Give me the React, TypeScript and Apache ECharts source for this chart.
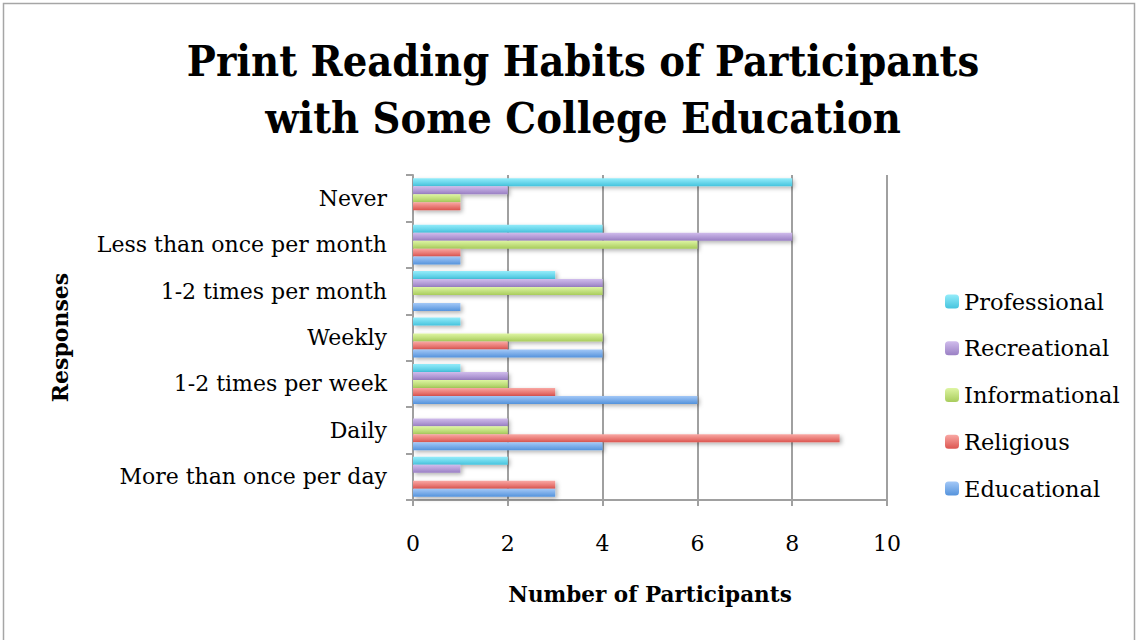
import React, { useEffect, useRef } from "react";
import * as echarts from "echarts";

const categories = [
  "More than once per day",
  "Daily",
  "1-2 times per week",
  "Weekly",
  "1-2 times per month",
  "Less than once per month",
  "Never",
];
const educational = [3, 4, 6, 4, 1, 1, 0];
const religious = [3, 9, 3, 2, 0, 1, 1];
const informational = [0, 2, 2, 4, 4, 6, 1];
const recreational = [1, 2, 2, 0, 4, 8, 2];
const professional = [2, 0, 1, 1, 3, 4, 8];
const xTicks = [0, 2, 4, 6, 8, 10];

const FONT = "'DejaVu Serif', 'Liberation Serif', serif";
const TITLE_FONT = "'DejaVu Serif Condensed', 'DejaVu Serif', serif";

const grad = (top: string, bottom: string) =>
  new echarts.graphic.LinearGradient(0, 0, 0, 1, [
    { offset: 0, color: top },
    { offset: 1, color: bottom },
  ]);

export default function App() {
  const ref = useRef<HTMLDivElement>(null);
  useEffect(() => {
    document.body.style.margin = "0";
    const chart = echarts.init(ref.current!, null, { renderer: "svg" });
    const mk = (name: string, data: number[], top: string, bottom: string) => ({
      name,
      type: "bar",
      data,
      barGap: "0%",
      barCategoryGap: "14%",
      itemStyle: {
        color: grad(top, bottom),
        shadowBlur: 4,
        shadowColor: "rgba(0,0,0,0.3)",
        shadowOffsetX: 2,
        shadowOffsetY: 2,
      },
    });
    chart.setOption({
      animation: false,
      backgroundColor: "#ffffff",
      title: {
        text: "Print Reading Habits of Participants\nwith Some College Education",
        left: 578,
        textAlign: "center",
        top: 27,
        textStyle: {
          fontFamily: TITLE_FONT,
          fontWeight: "bold",
          fontSize: 43,
          lineHeight: 57,
          color: "#000",
        },
      },
      graphic: [
        {
          type: "rect",
          shape: { x: 3.5, y: 3.5, width: 1131, height: 640 },
          style: { fill: "none", stroke: "#a6a6a6", lineWidth: 1.5 },
        },
      ],
      legend: {
        orient: "vertical",
        left: 940,
        top: 285,
        itemWidth: 14,
        itemHeight: 14,
        itemGap: 23.75,
        data: ["Professional", "Recreational", "Informational", "Religious", "Educational"],
        textStyle: { fontFamily: FONT, fontSize: 22.5, color: "#000" },
      },
      grid: { left: 413, right: 252, top: 175, bottom: 140 },
      xAxis: {
        type: "value",
        min: xTicks[0],
        max: xTicks[xTicks.length - 1],
        interval: 2,
        name: "Number of Participants",
        nameLocation: "middle",
        nameGap: 83,
        nameTextStyle: { fontFamily: FONT, fontWeight: "bold", fontSize: 21.5, color: "#000" },
        axisLine: { show: true, lineStyle: { color: "#a0a0a0", width: 2 } },
        axisTick: { show: true, length: 6, lineStyle: { color: "#a0a0a0", width: 2 } },
        axisLabel: { fontFamily: FONT, fontSize: 22, color: "#000", margin: 32 },
        splitLine: { show: true, lineStyle: { color: "#a0a0a0", width: 2 } },
      },
      yAxis: {
        type: "category",
        data: categories,
        name: "Responses",
        nameLocation: "middle",
        nameGap: 342,
        nameTextStyle: { fontFamily: FONT, fontWeight: "bold", fontSize: 22, color: "#000" },
        axisLine: { show: true, lineStyle: { color: "#a0a0a0", width: 2 } },
        axisTick: { show: true, length: 7, lineStyle: { color: "#a0a0a0", width: 2 } },
        axisLabel: { fontFamily: FONT, fontSize: 22, color: "#000", margin: 26 },
      },
      series: [
        mk("Professional", professional, "#94ecfa", "#46c4de"),
        mk("Recreational", recreational, "#d0bcec", "#9a80c4"),
        mk("Informational", informational, "#def5a3", "#a8cc5c"),
        mk("Religious", religious, "#f9a8a4", "#dc5550"),
        mk("Educational", educational, "#a3c8f7", "#5593dc"),
      ],
    });
    return () => chart.dispose();
  }, []);
  return <div ref={ref} style={{ width: 1139, height: 640 }} />;
}
